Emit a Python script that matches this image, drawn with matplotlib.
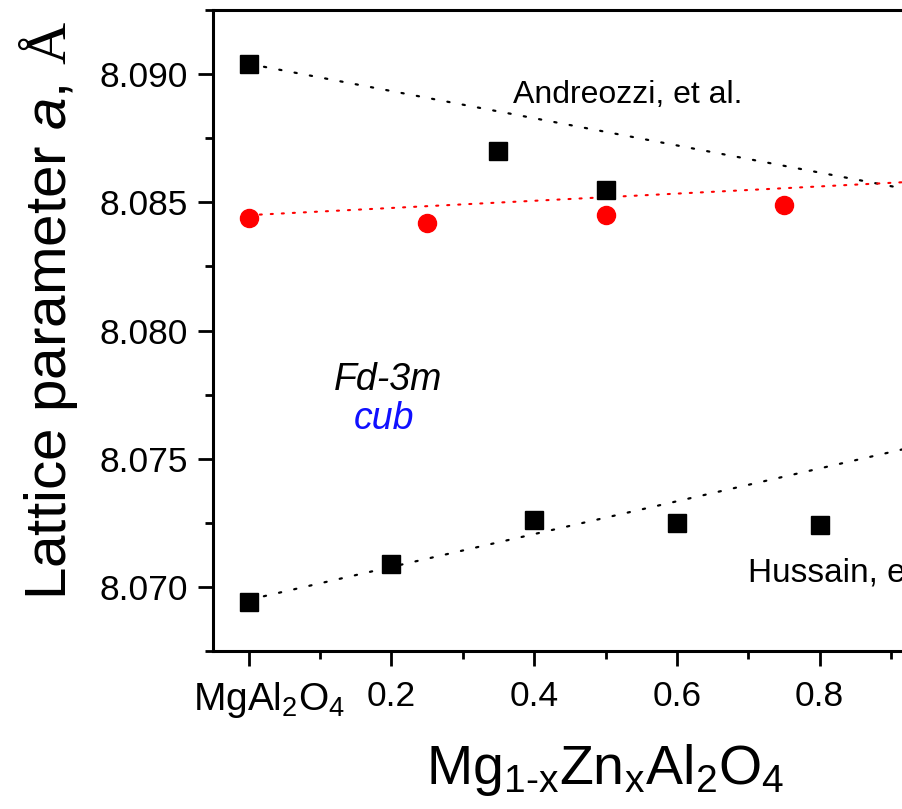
import matplotlib.pyplot as plt
from matplotlib.ticker import MultipleLocator
from matplotlib.transforms import ScaledTranslation

plt.rcParams["font.family"] = ["Liberation Sans", "DejaVu Sans"]
plt.rcParams["mathtext.fontset"] = "custom"
plt.rcParams["mathtext.rm"] = "Liberation Sans"
plt.rcParams["mathtext.it"] = "Liberation Sans:italic"
plt.rcParams["mathtext.sf"] = "Liberation Sans"
plt.rcParams["mathtext.cal"] = "Liberation Serif"

# Andreozzi et al.
x_andreozzi = [0.0, 0.35, 0.5]
a_andreozzi = [8.0904, 8.0870, 8.0855]
fit_andreozzi_x = [0.0, 1.0]
fit_andreozzi_y = [8.0904, 8.0851]

# this work
x_ours = [0.0, 0.25, 0.5, 0.75]
a_ours = [8.0844, 8.0842, 8.0845, 8.0849]
fit_ours_x = [0.0, 1.0]
fit_ours_y = [8.0845, 8.0859]

# Hussain et al.
x_hussain = [0.0, 0.2, 0.4, 0.6, 0.8]
a_hussain = [8.0694, 8.0709, 8.0726, 8.0725, 8.0724]
fit_hussain_x = [0.0, 1.0]
fit_hussain_y = [8.0695, 8.0759]

x_ticks = [0.0, 0.2, 0.4, 0.6, 0.8, 1.0]
x_tick_labels = [r"MgAl$_2$O$_4$", "0.2", "0.4", "0.6", "0.8", r"ZnAl$_2$O$_4$"]

fig = plt.figure(figsize=(9.03, 8.09), dpi=100)
ax = fig.add_axes([0.2359, 0.1953, 0.8693, 0.7923])

ax.plot(fit_andreozzi_x, fit_andreozzi_y, color="black", lw=1.6,
        linestyle=(0, (1, 6.0)), dash_capstyle="round")
ax.plot(fit_ours_x, fit_ours_y, color="red", lw=1.5,
        linestyle=(0, (1, 4.3)), dash_capstyle="round")
ax.plot(fit_hussain_x, fit_hussain_y, color="black", lw=1.6,
        linestyle=(0, (1, 6.0)), dash_capstyle="round")

ax.plot(x_andreozzi, a_andreozzi, "s", color="black", ms=12.5, zorder=3)
ax.plot(x_hussain, a_hussain, "s", color="black", ms=12.5, zorder=3)
ax.plot(x_ours, a_ours, "o", color="red", ms=13, mec="red", zorder=3)

ax.text(0.370, 8.0892, "Andreozzi, et al.", fontsize=23, va="center", ha="left")
ax.text(0.699, 8.07053, "Hussain, et al.", fontsize=24, va="center", ha="left")
ax.text(0.195, 8.07807, "Fd-3m", fontsize=27, style="italic", ha="center", va="center")
ax.text(0.190, 8.07656, "cub", fontsize=27, style="italic", color="#1010ff",
        ha="center", va="center")

ax.set_xlim(-0.05, 1.05)
ax.set_ylim(8.0675, 8.0925)
ax.set_xticks(x_ticks)
ax.set_xticklabels(x_tick_labels)
ax.xaxis.set_minor_locator(MultipleLocator(0.1))
ax.yaxis.set_major_locator(MultipleLocator(0.005))
ax.yaxis.set_minor_locator(MultipleLocator(0.0025))
ax.yaxis.set_major_formatter(plt.FormatStrFormatter("%.3f"))

ax.tick_params(which="major", direction="out", length=11, width=2, labelsize=25.5, pad=7)
ax.tick_params(axis="x", which="major", pad=10)
ax.tick_params(which="minor", direction="out", length=5.5, width=2)
for spine in ax.spines.values():
    spine.set_linewidth(2.2)

# end-member labels are larger and sit a bit right of their ticks
shift = ScaledTranslation(0.2, 0, fig.dpi_scale_trans)
for lbl in (ax.get_xticklabels()[0], ax.get_xticklabels()[-1]):
    lbl.set_fontsize(28)
    lbl.set_transform(lbl.get_transform() + shift)

ax.set_xlabel(r"Mg$_{\mathsf{1\text{-}x}}$Zn$_{\mathsf{x}}$Al$_{\mathsf{2}}$O$_{\mathsf{4}}$",
              fontsize=40, labelpad=16)
ax.set_ylabel(r"Lattice parameter $\mathit{a}$, $\mathcal{Å}$", fontsize=42)
ax.yaxis.set_label_coords(-0.170, 0.532)

fig.savefig("out.png", dpi=100)
